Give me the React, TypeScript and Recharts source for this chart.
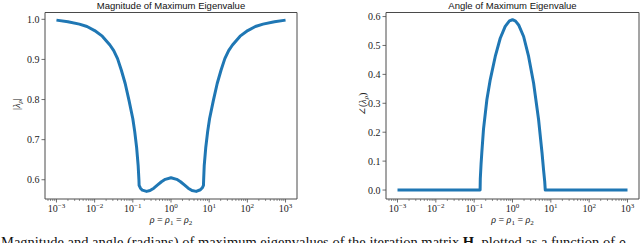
import React from "react";
import { LineChart, Line, XAxis, YAxis, ReferenceLine } from "recharts";

// log10(rho) sample points and |lambda|
const magLogRho = [
  -3.0, -2.7, -2.4, -2.2, -2.0, -1.8, -1.6, -1.5, -1.4, -1.3, -1.2, -1.1, -1.0,
  -0.95, -0.9, -0.86, -0.84, -0.835, -0.8, -0.75, -0.64, -0.55, -0.45, -0.35,
  -0.25, -0.15, 0.0, 0.15, 0.25, 0.35, 0.45, 0.55, 0.66, 0.77, 0.82, 0.85,
  0.855, 0.87, 0.91, 0.96, 1.01, 1.11, 1.21, 1.31, 1.41, 1.51, 1.61, 1.81,
  2.01, 2.21, 2.41, 2.71, 3.0,
];
const magValue = [
  0.998, 0.994, 0.988, 0.982, 0.972, 0.958, 0.936, 0.922, 0.902, 0.873, 0.84,
  0.798, 0.752, 0.72, 0.68, 0.635, 0.6, 0.586, 0.579, 0.574, 0.571, 0.573,
  0.579, 0.587, 0.595, 0.601, 0.605, 0.601, 0.595, 0.587, 0.579, 0.573,
  0.571, 0.575, 0.58, 0.586, 0.6, 0.635, 0.68, 0.72, 0.752, 0.798, 0.84,
  0.873, 0.902, 0.922, 0.936, 0.958, 0.972, 0.982, 0.988, 0.994, 0.998,
];

// log10(rho) sample points and angle (radians) from the right panel
const angleLogRho = [
  -3.0, -0.845, -0.84, -0.82, -0.8, -0.757, -0.668, -0.58, -0.45, -0.32, -0.19,
  -0.08, 0.0, 0.08, 0.16, 0.29, 0.42, 0.55, 0.68, 0.77, 0.81, 0.84, 0.855, 3.0,
];
const angleValue = [
  0, 0, 0.04, 0.09, 0.13, 0.21, 0.313, 0.382, 0.462, 0.525, 0.566, 0.585,
  0.589, 0.584, 0.571, 0.531, 0.462, 0.37, 0.244, 0.129, 0.07, 0.03, 0, 0,
];

const magTicks = [0.6, 0.7, 0.8, 0.9, 1.0];
const angleTicks = [0, 0.1, 0.2, 0.3, 0.4, 0.5, 0.6];

const magData = magLogRho.map((x, i) => ({ x, y: magValue[i] }));
const angleData = angleLogRho.map((x, i) => ({ x, y: angleValue[i] }));

const X_DOMAIN: [number, number] = [-3.3, 3.3];

// major + log minor ticks (2..9 x 10^k) inside the domain
const xTicks: number[] = [];
for (let k = -4; k <= 3; k++) {
  for (let m = 1; m <= 9; m++) {
    const v = k + Math.log10(m);
    if (v >= X_DOMAIN[0] && v <= X_DOMAIN[1]) xTicks.push(v);
  }
}

const BLUE = "#1f77b4";
const SPINE = "#4a4a4a";
const SERIF = "'Liberation Serif', 'DejaVu Serif', serif";
const SANS = "'Liberation Sans', 'DejaVu Sans', sans-serif";

const LogTick = (props: any) => {
  const { x, y, payload } = props;
  const v = payload.value;
  const major = Math.abs(v - Math.round(v)) < 1e-6;
  if (!major) {
    return <line x1={x} y1={y} x2={x} y2={y + 2} stroke={SPINE} strokeWidth={0.6} />;
  }
  const exp = Math.round(v);
  const expText = exp < 0 ? `\u2212${-exp}` : `${exp}`;
  return (
    <g>
      <line x1={x} y1={y} x2={x} y2={y + 3.5} stroke={SPINE} strokeWidth={0.8} />
      <text x={x} y={y + 13} textAnchor="middle" fontFamily={SERIF} fontSize={10} fill="#222">
        10
        <tspan dy={-4} fontSize={7}>
          {expText}
        </tspan>
      </text>
    </g>
  );
};

const ValueTick = (props: any) => {
  const { x, y, payload } = props;
  return (
    <g>
      <line x1={x} y1={y} x2={x - 3.5} y2={y} stroke={SPINE} strokeWidth={0.8} />
      <text x={x - 5.5} y={y + 3.5} textAnchor="end" fontFamily={SERIF} fontSize={10} fill="#222">
        {Number(payload.value).toFixed(1)}
      </text>
    </g>
  );
};

interface PanelProps {
  data: { x: number; y: number }[];
  yDomain: [number, number];
  yTicks: number[];
  yAxisWidth: number;
  rightMargin: number;
}

const Panel: React.FC<PanelProps> = ({ data, yDomain, yTicks, yAxisWidth, rightMargin }) => (
  <LineChart
    width={320}
    height={243}
    data={data}
    margin={{ top: 12.5, right: rightMargin, left: 0, bottom: 0 }}
  >
    <XAxis
      dataKey="x"
      type="number"
      domain={X_DOMAIN}
      ticks={xTicks}
      interval={0}
      allowDataOverflow
      height={44}
      tickSize={0}
      tickMargin={0}
      tickLine={false}
      tick={<LogTick />}
      axisLine={{ stroke: SPINE, strokeWidth: 1 }}
    />
    <YAxis
      type="number"
      domain={yDomain}
      ticks={yTicks}
      interval={0}
      allowDataOverflow
      width={yAxisWidth}
      tickSize={0}
      tickMargin={0}
      tickLine={false}
      tick={<ValueTick />}
      axisLine={{ stroke: SPINE, strokeWidth: 1 }}
    />
    {/* top and right spines */}
    <ReferenceLine y={yDomain[1]} stroke={SPINE} strokeWidth={1} />
    <ReferenceLine x={X_DOMAIN[1]} stroke={SPINE} strokeWidth={1} />
    <Line
      dataKey="y"
      type="linear"
      stroke={BLUE}
      strokeWidth={3}
      strokeLinejoin="round"
      dot={false}
      activeDot={false}
      isAnimationActive={false}
    />
  </LineChart>
);

export default function App() {
  return (
    <div
      style={{
        position: "fixed",
        left: 0,
        top: 0,
        width: 640,
        height: 243,
        overflow: "hidden",
        background: "#fff",
      }}
    >
      <div style={{ position: "absolute", left: 0, top: 0 }}>
        <Panel data={magData} yDomain={[0.552, 1.017]} yTicks={magTicks} yAxisWidth={45} rightMargin={23} />
      </div>
      <div style={{ position: "absolute", left: 320, top: 0 }}>
        <Panel data={angleData} yDomain={[-0.031, 0.614]} yTicks={angleTicks} yAxisWidth={66} rightMargin={1} />
      </div>
      <svg
        width={640}
        height={243}
        style={{ position: "absolute", left: 0, top: 0, pointerEvents: "none" }}
      >
        <text x={171} y={8.5} textAnchor="middle" fontFamily={SANS} fontSize={9.5} fill="#111">
          Magnitude of Maximum Eigenvalue
        </text>
        <text x={512.5} y={8.5} textAnchor="middle" fontFamily={SANS} fontSize={9.5} fill="#111">
          Angle of Maximum Eigenvalue
        </text>
        <text
          transform="translate(20,104) rotate(-90)"
          textAnchor="middle"
          fontFamily={SERIF}
          fontSize={10}
          fill="#222"
        >
          |<tspan fontStyle="italic">λ</tspan>
          <tspan dy={2} fontSize={7} fontStyle="italic">ρ</tspan>
          <tspan dy={-2}>|</tspan>
        </text>
        <text
          transform="translate(366,104) rotate(-90)"
          textAnchor="middle"
          fontFamily={SERIF}
          fontSize={10}
          fill="#222"
        >
          ∠(<tspan fontStyle="italic">λ</tspan>
          <tspan dy={2} fontSize={7} fontStyle="italic">ρ</tspan>
          <tspan dy={-2}>)</tspan>
        </text>
        {[171, 512.5].map((cx) => (
          <text key={cx} x={cx} y={223} textAnchor="middle" fontFamily={SERIF} fontSize={10} fill="#222">
            <tspan fontStyle="italic">ρ</tspan> = <tspan fontStyle="italic">ρ</tspan>
            <tspan dy={2} fontSize={7}>1</tspan>
            <tspan dy={-2}> = </tspan>
            <tspan fontStyle="italic">ρ</tspan>
            <tspan dy={2} fontSize={7}>2</tspan>
          </text>
        ))}
        <text x={1} y={246.5} fontFamily={SERIF} fontSize={14.5} fill="#111">
          Magnitude and angle (radians) of maximum eigenvalues of the iteration matrix{" "}
          <tspan fontWeight="bold">H</tspan>, plotted as a function of{" "}
          <tspan fontStyle="italic">ρ</tspan>
        </text>
      </svg>
    </div>
  );
}
